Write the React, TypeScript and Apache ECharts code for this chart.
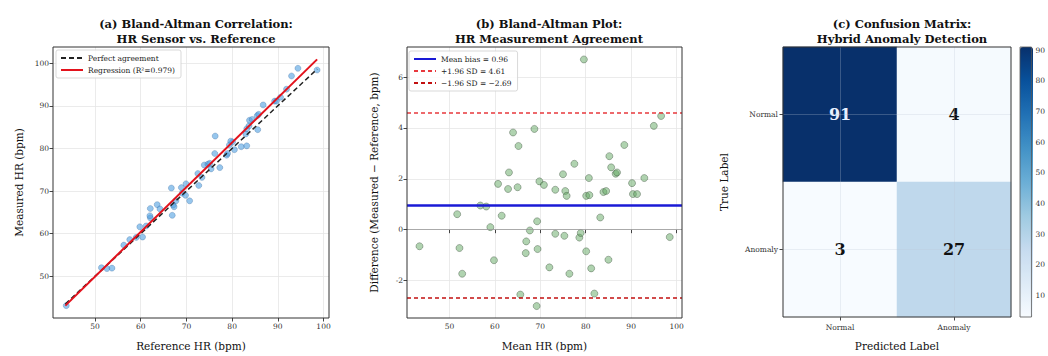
import React, { useEffect, useRef } from "react";
import * as echarts from "echarts";

// Panel (a): reference vs measured heart rate (bpm)
const refHR = [43.7, 51.4, 52.6, 53.7, 56.3, 57.6, 59.0, 60.4, 59.8, 61.2, 62.1, 62.0, 62.1, 63.6, 64.2, 66.9, 67.1, 67.3, 67.7, 66.7, 69.1, 70.7, 69.8, 68.9, 69.9, 72.7, 72.5, 73.4, 73.9, 74.7, 75.1, 75.4, 77.3, 76.2, 78.8, 79.0, 79.4, 80.1, 80.5, 79.7, 82.0, 83.2, 83.0, 83.2, 83.7, 85.6, 83.8, 84.4, 85.5, 85.8, 86.8, 89.3, 89.7, 90.6, 91.9, 93.0, 94.4, 98.6, 76.3];
const measHR = [43.1, 52.0, 51.8, 51.9, 57.3, 58.6, 59.1, 59.2, 61.6, 61.8, 63.7, 64.2, 65.9, 66.8, 65.8, 64.3, 66.7, 66.3, 67.7, 70.7, 69.5, 67.7, 69.0, 70.8, 71.7, 71.3, 74.1, 73.2, 76.1, 76.3, 76.5, 75.2, 75.5, 78.8, 78.4, 78.8, 80.8, 81.5, 79.7, 81.7, 80.4, 80.6, 83.4, 84.6, 85.3, 84.4, 86.6, 86.8, 87.7, 88.0, 90.2, 91.1, 91.1, 92.0, 93.9, 97.0, 98.8, 98.4, 82.9];
const lineX = [43.5, 98.6];
const perfectY = [43.5, 98.6];
const regressionY = [43.1, 100.9];
const r2 = "0.979";

// Panel (b): Bland-Altman mean vs difference
const meanHR = [43.4, 51.7, 52.2, 52.8, 56.8, 58.1, 59.0, 59.8, 60.7, 61.5, 62.9, 63.1, 64.0, 65.2, 65.0, 65.6, 66.9, 66.8, 67.7, 68.7, 69.3, 69.2, 69.4, 69.8, 70.8, 72.0, 73.3, 73.3, 75.0, 75.5, 75.8, 75.3, 76.4, 77.5, 78.6, 78.9, 80.1, 80.8, 80.1, 80.7, 81.2, 81.9, 83.2, 83.9, 84.5, 85.0, 85.2, 85.6, 86.6, 86.9, 88.5, 90.2, 90.4, 91.3, 92.9, 95.0, 96.6, 98.5, 79.6];
const diffHR = [-0.65, 0.61, -0.72, -1.73, 0.95, 0.91, 0.10, -1.20, 1.80, 0.55, 1.60, 2.25, 3.82, 3.29, 1.67, -2.55, -0.46, -0.92, -0.03, 3.96, 0.33, -3.00, -0.76, 1.90, 1.76, -1.48, 1.57, -0.16, 2.18, 1.52, 1.33, -0.24, -1.73, 2.59, -0.31, -0.13, 1.33, 1.36, -0.85, 2.03, -1.52, -2.51, 0.48, 1.48, 1.52, -1.18, 2.89, 2.45, 2.20, 2.25, 3.33, 1.83, 1.40, 1.40, 2.03, 4.08, 4.47, -0.29, 6.69];
const meanBias = 0.96;
const upperLoA = 4.61;
const lowerLoA = -2.69;

// Panel (c): confusion matrix
const cmLabels = ["Normal", "Anomaly"];
const cmValues = [
  [91, 4],
  [3, 27],
];
const colorbarTicks = [10, 20, 30, 40, 50, 60, 70, 80, 90];

const hrTicks = [50, 60, 70, 80, 90, 100];
const diffTicks = [-2, 0, 2, 4, 6];

const FONT = "DejaVu Serif";
const BLUES = ["#f7fbff", "#deebf7", "#c6dbef", "#9ecae1", "#6baed6", "#4292c6", "#2171b5", "#08519c", "#08306b"];

const NAME_STYLE = { fontFamily: FONT, fontSize: 10.5, color: "#111" };
const TICK_LABEL = { fontFamily: FONT, fontSize: 7.5, color: "#333" };

function valueAxis(gridIndex: number, min: number, max: number, ticks: number[], name: string, nameGap: number) {
  return {
    type: "value",
    gridIndex,
    min,
    max,
    name,
    nameLocation: "middle",
    nameGap,
    nameTextStyle: NAME_STYLE,
    axisLine: { show: false },
    axisTick: { show: true, length: 3.5, lineStyle: { color: "#444" }, customValues: ticks },
    axisLabel: { ...TICK_LABEL, margin: 4, customValues: ticks },
    splitLine: { show: true, lineStyle: { color: "#e6e6e6", width: 0.8 } },
  };
}

const LEGEND_BASE = {
  orient: "vertical",
  itemWidth: 22,
  itemHeight: 8,
  itemGap: 4,
  padding: [4, 6, 4, 4],
  borderColor: "#cfcfcf",
  borderWidth: 0.8,
  borderRadius: 2,
  backgroundColor: "rgba(255,255,255,0.85)",
  itemStyle: { opacity: 0 },
  textStyle: { fontFamily: FONT, fontSize: 7.5, color: "#222" },
};

export default function App() {
  const ref = useRef<HTMLDivElement>(null);
  useEffect(() => {
    document.body.style.margin = "0";
    if (!ref.current) return;
    const chart = echarts.init(ref.current, undefined, { renderer: "svg" });

    const maxCm = Math.max(...cmValues.flat());
    const minCm = Math.min(...cmValues.flat());
    const heatData: any[] = [];
    cmValues.forEach((row, yi) =>
      row.forEach((v, xi) =>
        heatData.push({
          value: [xi, yi, v],
          label: { color: v > (maxCm + minCm) / 2 ? "#e8f0ff" : "#111" },
        })
      )
    );

    const meanName = `Mean bias = ${meanBias.toFixed(2)}`;
    const upName = `+1.96 SD = ${upperLoA.toFixed(2)}`;
    const loName = `\u22121.96 SD = \u2212${Math.abs(lowerLoA).toFixed(2)}`;
    const regName = `Regression (R\u00b2=${r2})`;

    const hline = (name: string, value: number, color: string, width: number, type: any) => ({
      name,
      type: "line",
      xAxisIndex: 1,
      yAxisIndex: 1,
      data: [],
      symbol: "none",
      lineStyle: { color, width, type },
      markLine: {
        silent: true,
        symbol: "none",
        label: { show: false },
        lineStyle: { color, width, type },
        data: [{ yAxis: value }],
      },
      z: 3,
    });

    const option: any = {
      animation: false,
      backgroundColor: "#fff",
      textStyle: { fontFamily: FONT },
      title: [
        { text: "(a) Bland-Altman Correlation:\nHR Sensor vs. Reference", left: 191, top: 11 },
        { text: "(b) Bland-Altman Plot:\nHR Measurement Agreement", left: 544, top: 11 },
        { text: "(c) Confusion Matrix:\nHybrid Anomaly Detection", left: 897, top: 11 },
      ].map((t) => ({
        ...t,
        textAlign: "center",
        textStyle: { fontFamily: FONT, fontSize: 11.5, fontWeight: "bold", color: "#111", lineHeight: 15 },
      })),
      grid: [
        { left: 53, top: 47, width: 276, height: 271, show: true, borderColor: "#333", borderWidth: 1, backgroundColor: "transparent", z: 10 },
        { left: 407, top: 47, width: 275, height: 271, show: true, borderColor: "#333", borderWidth: 1, backgroundColor: "transparent", z: 10 },
        { left: 783, top: 47, width: 228, height: 270, show: true, borderColor: "#333", borderWidth: 1, backgroundColor: "transparent", z: 10 },
        { left: 1020, top: 47, width: 13, height: 270, show: true, borderColor: "#555", borderWidth: 0.8, backgroundColor: "transparent", z: 10 },
      ],
      xAxis: [
        valueAxis(0, 40.8, 101.2, hrTicks, "Reference HR (bpm)", 22),
        valueAxis(1, 40.65, 101.2, hrTicks, "Mean HR (bpm)", 22),
        {
          type: "category",
          gridIndex: 2,
          data: cmLabels,
          name: "Predicted Label",
          nameLocation: "middle",
          nameGap: 23,
          nameTextStyle: NAME_STYLE,
          axisLine: { show: false },
          axisTick: { show: true, alignWithLabel: true, length: 3.5, lineStyle: { color: "#444" } },
          axisLabel: { ...TICK_LABEL, margin: 6 },
          splitLine: { show: false },
        },
        { type: "value", gridIndex: 3, show: false, min: 0, max: 1 },
      ],
      yAxis: [
        valueAxis(0, 40.2, 103.8, hrTicks, "Measured HR (bpm)", 29),
        valueAxis(1, -3.47, 7.18, diffTicks, "Difference (Measured \u2212 Reference, bpm)", 28),
        {
          type: "category",
          gridIndex: 2,
          data: cmLabels,
          inverse: true,
          name: "True Label",
          nameLocation: "middle",
          nameGap: 54,
          nameTextStyle: NAME_STYLE,
          axisLine: { show: false },
          axisTick: { show: true, alignWithLabel: true, length: 3.5, lineStyle: { color: "#444" } },
          axisLabel: { ...TICK_LABEL, margin: 5 },
          splitLine: { show: false },
        },
        {
          type: "value",
          gridIndex: 3,
          min: minCm,
          max: maxCm,
          position: "right",
          axisLine: { show: false },
          axisTick: { show: true, length: 3.5, lineStyle: { color: "#444" }, customValues: colorbarTicks },
          axisLabel: { ...TICK_LABEL, margin: 4, customValues: colorbarTicks },
          splitLine: { show: false },
        },
      ],
      legend: [
        { ...LEGEND_BASE, data: ["Perfect agreement", regName], left: 56, top: 50 },
        { ...LEGEND_BASE, data: [meanName, upName, loName], left: 409, top: 51 },
      ],
      visualMap: {
        type: "continuous",
        min: minCm,
        max: maxCm,
        seriesIndex: 8,
        calculable: false,
        left: 1020,
        top: 47,
        itemWidth: 13,
        itemHeight: 270,
        padding: 0,
        text: null,
        showLabel: false,
        inRange: { color: BLUES },
      },
      series: [
        {
          type: "scatter",
          xAxisIndex: 0,
          yAxisIndex: 0,
          data: refHR.map((x, i) => [x, measHR[i]]),
          symbolSize: 6,
          itemStyle: { color: "rgba(80,160,225,0.75)", borderColor: "rgba(30,80,140,0.55)", borderWidth: 0.6 },
          z: 2,
        },
        {
          name: "Perfect agreement",
          type: "line",
          xAxisIndex: 0,
          yAxisIndex: 0,
          data: lineX.map((x, i) => [x, perfectY[i]]),
          symbol: "none",
          lineStyle: { color: "#222", width: 1.5, type: [5, 3] },
          z: 3,
        },
        {
          name: regName,
          type: "line",
          xAxisIndex: 0,
          yAxisIndex: 0,
          data: lineX.map((x, i) => [x, regressionY[i]]),
          symbol: "none",
          lineStyle: { color: "#e3121c", width: 2 },
          z: 4,
        },
        {
          type: "scatter",
          xAxisIndex: 1,
          yAxisIndex: 1,
          data: meanHR.map((x, i) => [x, diffHR[i]]),
          symbolSize: 7,
          itemStyle: { color: "rgba(95,165,95,0.62)", borderColor: "rgba(45,65,45,0.65)", borderWidth: 0.7 },
          z: 2,
          markLine: {
            silent: true,
            symbol: "none",
            label: { show: false },
            lineStyle: { color: "#999", width: 0.8, type: "solid" },
            data: [{ yAxis: 0 }],
          },
        },
        hline(meanName, meanBias, "#1a1ad6", 2.5, "solid"),
        hline(upName, upperLoA, "#e8383d", 1.5, [4, 3]),
        hline(loName, lowerLoA, "#c21010", 1.5, [4, 3]),
        {
          type: "scatter",
          xAxisIndex: 3,
          yAxisIndex: 3,
          data: [],
        },
        {
          type: "heatmap",
          xAxisIndex: 2,
          yAxisIndex: 2,
          data: heatData,
          label: {
            show: true,
            fontFamily: FONT,
            fontSize: 16,
            fontWeight: "bold",
            formatter: (p: any) => String(p.value[2]),
          },
          itemStyle: { borderWidth: 0 },
          markLine: {
            silent: true,
            symbol: "none",
            label: { show: false },
            lineStyle: { color: "rgba(190,200,215,0.35)", width: 0.8, type: "solid" },
            data: [{ xAxis: 0 }, { xAxis: 1 }, { yAxis: 0 }, { yAxis: 1 }],
          },
        },
      ],
    };
    chart.setOption(option);
    return () => chart.dispose();
  }, []);
  return <div ref={ref} style={{ width: 1048, height: 356 }} />;
}
